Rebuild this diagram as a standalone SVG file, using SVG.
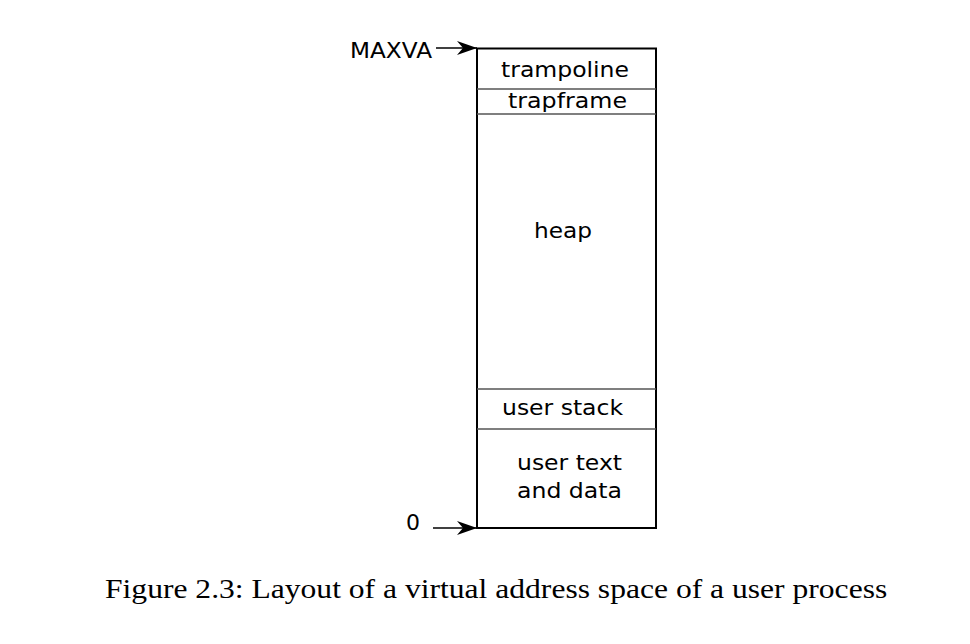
<svg xmlns="http://www.w3.org/2000/svg" width="970" height="644" viewBox="0 0 970 644">
<defs>
<marker id="ah" viewBox="0 0 20 14" refX="20" refY="7" markerWidth="20" markerHeight="14" markerUnits="userSpaceOnUse" orient="auto">
<path d="M0,0 L20,7 L0,14 L6,7 Z" fill="#000"/>
</marker>
</defs>
<style>
.lbl{font-family:"DejaVu Sans",sans-serif;font-size:22px;fill:#000}
.div{stroke:#555;stroke-width:1.5;fill:none}
.conn{stroke:#000;stroke-width:1.5;fill:none}
.cap{font-family:"Liberation Serif",serif;font-size:27px;fill:#000}
</style>
<rect width="970" height="644" fill="#fff"/>
<g id="memory">
<rect x="477" y="48.5" width="179" height="479.5" fill="#fff" stroke="#000" stroke-width="2"/>
<line class="div" x1="477" y1="89" x2="656" y2="89"/>
<line class="div" x1="477" y1="114" x2="656" y2="114"/>
<line class="div" x1="477" y1="389" x2="656" y2="389"/>
<line class="div" x1="477" y1="429" x2="656" y2="429"/>
</g>
<g id="trampoline"><text class="lbl" x="501" y="77" textLength="128" lengthAdjust="spacingAndGlyphs">trampoline</text></g>
<g id="trapframe"><text class="lbl" x="508" y="108" textLength="119" lengthAdjust="spacingAndGlyphs">trapframe</text></g>
<g id="heap"><text class="lbl" x="534" y="238" textLength="58" lengthAdjust="spacingAndGlyphs">heap</text></g>
<g id="userstack"><text class="lbl" x="502" y="415" textLength="121" lengthAdjust="spacingAndGlyphs">user stack</text></g>
<g id="usertext"><text class="lbl" x="517" y="470" textLength="105" lengthAdjust="spacingAndGlyphs">user text</text><text class="lbl" x="517" y="498" textLength="105" lengthAdjust="spacingAndGlyphs">and data</text></g>
<g id="maxva"><text class="lbl" x="350" y="58" textLength="82" lengthAdjust="spacingAndGlyphs">MAXVA</text></g>
<g id="zero"><text class="lbl" x="406" y="530" textLength="14" lengthAdjust="spacingAndGlyphs">0</text></g>
<g id="connectors">
<line class="conn" x1="436" y1="48" x2="477" y2="48" marker-end="url(#ah)"/>
<line class="conn" x1="433" y1="528" x2="477" y2="528" marker-end="url(#ah)"/>
</g>
<text class="cap" transform="translate(105,598) scale(1.17,1)" x="0" y="0">Figure 2.3: Layout of a virtual address space of a user process</text>
</svg>
